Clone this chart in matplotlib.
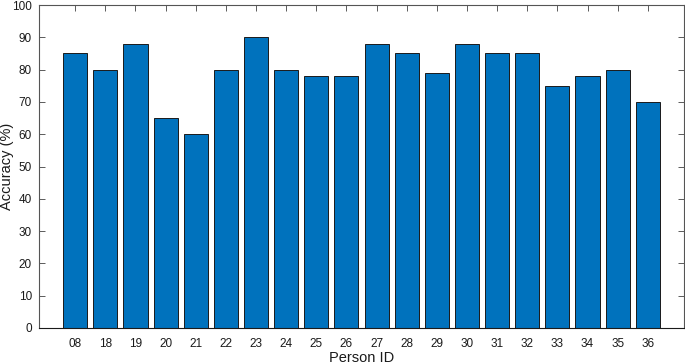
import matplotlib
matplotlib.use('Agg')
from matplotlib import pyplot as plt
import numpy as np

person_ids = ['08', '18', '19', '20', '21', '22', '23', '24', '25', '26',
              '27', '28', '29', '30', '31', '32', '33', '34', '35', '36']
accuracy = [85, 80, 88, 65, 60, 80, 90, 80, 78, 78,
            88, 85, 79, 88, 85, 85, 75, 78, 80, 70]
y_ticks = [0, 10, 20, 30, 40, 50, 60, 70, 80, 90, 100]


def main():
	plt.rcParams['font.family'] = ['Liberation Sans', 'DejaVu Sans']
	fig = plt.figure(figsize=(6.85, 3.64), dpi=100)
	ax = fig.add_axes([39/685, 36/364, 645/685, 323/364])

	x = np.arange(len(person_ids))
	ax.bar(x, accuracy, width=0.8, color='#0072BD', edgecolor='#1a1a1a', linewidth=0.7, zorder=2)

	ax.set_xlim(-1.2, len(person_ids) + 0.2)
	ax.set_ylim(0, 100)
	ax.set_xticks(x)
	ax.set_xticklabels(person_ids)
	ax.set_yticks(y_ticks)

	ax.tick_params(direction='in', top=True, right=True, length=4, width=0.6,
		colors='#404040', labelcolor='#1a1a1a', labelsize=8.5)
	ax.tick_params(axis='x', pad=7)
	ax.tick_params(axis='y', pad=5)
	for s in ax.spines.values():
		s.set_color('#555555')
		s.set_linewidth(0.8)
	ax.spines['bottom'].set_color('#1a1a1a')

	ax.set_xlabel('Person ID', fontsize=10.5, color='#1a1a1a')
	ax.set_ylabel('Accuracy (%)', fontsize=10.5, color='#1a1a1a')
	ax.xaxis.set_label_coords(0.5, -0.072)
	ax.yaxis.set_label_coords(-0.039, 0.5)

	plt.savefig('out.png', dpi=100)


if __name__ == '__main__':
	main()
